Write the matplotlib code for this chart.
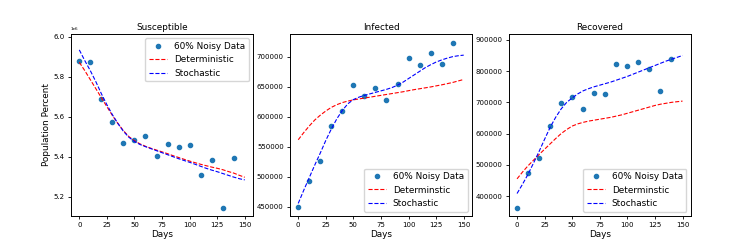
import numpy as np
import matplotlib
matplotlib.use("Agg")
import matplotlib.pyplot as plt

days_obs = [0, 10, 20, 30, 40, 50, 60, 70, 80, 90, 100, 110, 120, 130, 140]
days_fit = list(range(0, 151, 5))

# Susceptible
s_noisy = [5.878e6, 5.874e6, 5.690e6, 5.574e6, 5.469e6, 5.484e6, 5.502e6, 5.402e6,
           5.462e6, 5.449e6, 5.459e6, 5.309e6, 5.385e6, 5.145e6, 5.395e6]
s_det = [5.872e6, 5.830e6, 5.785e6, 5.740e6, 5.695e6, 5.650e6, 5.606e6, 5.566e6,
         5.530e6, 5.500e6, 5.480e6, 5.464e6, 5.452e6, 5.442e6, 5.433e6, 5.424e6,
         5.415e6, 5.405e6, 5.396e6, 5.387e6, 5.378e6, 5.370e6, 5.362e6, 5.355e6,
         5.348e6, 5.342e6, 5.335e6, 5.326e6, 5.318e6, 5.307e6, 5.297e6]
s_sto = [5.934e6, 5.880e6, 5.830e6, 5.775e6, 5.715e6, 5.660e6, 5.610e6, 5.566e6,
         5.527e6, 5.497e6, 5.476e6, 5.461e6, 5.450e6, 5.440e6, 5.430e6, 5.420e6,
         5.410e6, 5.400e6, 5.390e6, 5.381e6, 5.372e6, 5.362e6, 5.352e6, 5.342e6,
         5.333e6, 5.325e6, 5.316e6, 5.307e6, 5.298e6, 5.290e6, 5.284e6]

# Infected
i_noisy = [450500, 493800, 526000, 585000, 609500, 653500, 635000, 648300,
           627800, 655600, 698300, 686700, 706100, 688900, 722800]
i_det = [562000, 574000, 585000, 595000, 603000, 610000, 616000, 620500,
         624000, 626500, 628500, 630000, 631500, 633000, 634500, 636000,
         637500, 639000, 640500, 642000, 643800, 645500, 647000, 648500,
         650000, 651800, 653500, 655500, 657500, 660000, 662500]
i_sto = [456000, 478000, 499000, 520000, 540000, 561000, 580000, 597000,
         611000, 622000, 629000, 633000, 636000, 638500, 641000, 643500,
         646000, 649000, 653000, 658000, 664000, 670000, 676000, 682000,
         687000, 691500, 695000, 698000, 700500, 702000, 703000]

# Recovered
r_noisy = [362600, 472500, 521400, 623800, 696600, 715800, 679700, 728600,
           726500, 823400, 815800, 828600, 805200, 737300, 839000]
r_det = [455000, 477000, 497000, 515000, 533000, 550000, 567000, 584000,
         600000, 613000, 624000, 631000, 636000, 640000, 643000, 646000,
         649000, 652000, 656000, 660000, 665000, 670000, 675000, 680000,
         685000, 690000, 694000, 697000, 700000, 702000, 704000]
r_sto = [408000, 438000, 470000, 506000, 543000, 582000, 620000, 652000,
         679000, 700000, 714000, 727000, 737000, 744000, 750000, 755000,
         760000, 765000, 771000, 777000, 783000, 790000, 797000, 804000,
         811000, 818000, 825000, 832000, 838000, 844000, 850000]

panels = [
    ("Susceptible", s_noisy, s_det, s_sto, "Deterministic", "upper right"),
    ("Infected", i_noisy, i_det, i_sto, "Determinstic", "lower right"),
    ("Recovered", r_noisy, r_det, r_sto, "Determinstic", "lower right"),
]
lefts = [0.0952, 0.3887, 0.682]

fig = plt.figure(figsize=(7.46, 2.47), dpi=100)
for left, (title, noisy, det, sto, det_label, loc) in zip(lefts, panels):
    ax = fig.add_axes([left, 0.1255, 0.244, 0.737])
    ax.plot(days_obs, noisy, 'o', color='tab:blue', markersize=3, label='60% Noisy Data')
    ax.plot(days_fit, det, 'r--', linewidth=0.8, label=det_label)
    ax.plot(days_fit, sto, 'b--', linewidth=0.8, label='Stochastic')
    ax.set_title(title, fontsize=6.4, pad=3)
    ax.set_xlabel('Days', fontsize=6.4, labelpad=1)
    ax.set_xticks([0, 25, 50, 75, 100, 125, 150])
    ax.tick_params(labelsize=5, length=2.5, width=0.6, pad=2)
    for sp in ax.spines.values():
        sp.set_linewidth(0.7)
    ax.yaxis.get_offset_text().set_fontsize(3)
    ax.legend(loc=loc, fontsize=6.4)

axes = fig.get_axes()
axes[0].set_ylabel('Population Percent', fontsize=6.4, labelpad=2)
axes[0].set_ylim(5.1035e6, 6.0135e6)
axes[1].set_ylim(435000, 738300)
axes[2].set_ylim(336000, 919000)

fig.savefig("out.png", dpi=100)
